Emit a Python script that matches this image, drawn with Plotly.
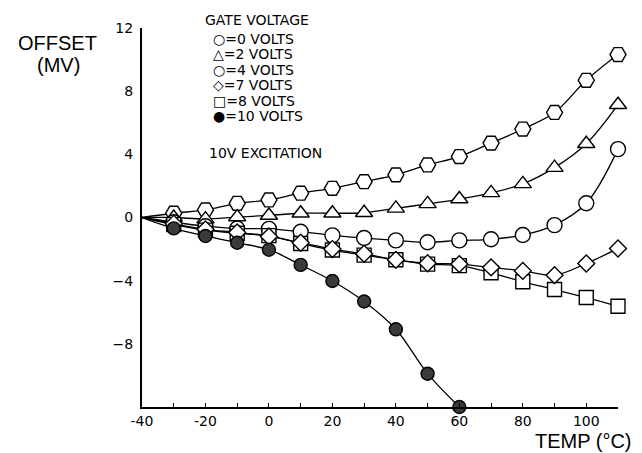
import plotly.graph_objects as go

# ---- data ----
temps = [-30, -20, -10, 0, 10, 20, 30, 40, 50, 60, 70, 80, 90, 100, 110]
gate_0v = [0.27, 0.48, 0.9, 1.11, 1.54, 1.85, 2.27, 2.7, 3.33, 3.86, 4.71, 5.6, 6.65, 8.69, 10.32]
gate_2v = [0.0, -0.1, 0.03, 0.13, 0.27, 0.27, 0.3, 0.58, 0.86, 1.17, 1.56, 2.13, 3.16, 4.67, 7.14]
gate_4v = [-0.3, -0.55, -0.7, -0.72, -0.9, -1.13, -1.3, -1.45, -1.57, -1.45, -1.38, -1.11, -0.48, 0.9, 4.33]
gate_7v = [-0.4, -0.75, -0.95, -1.2, -1.6, -2.0, -2.3, -2.68, -2.9, -2.95, -3.16, -3.38, -3.65, -2.91, -1.96]
gate_8v = [-0.45, -0.8, -1.0, -1.15, -1.65, -2.06, -2.38, -2.68, -2.95, -3.05, -3.5, -4.07, -4.56, -5.07, -5.62]
temps_10v = [-30, -20, -10, 0, 10, 20, 30, 40, 50, 60]
gate_10v = [-0.69, -1.17, -1.6, -2.04, -3.0, -4.02, -5.32, -7.08, -9.89, -12.0]
origin_temp, origin_offset = -40, 0.0

x_tickvals = [-40, -30, -20, -10, 0, 10, 20, 30, 40, 50, 60, 70, 80, 90, 100, 110]
x_ticktext = ["-40", "", "-20", "", "0", "", "20", "", "40", "", "60", "", "80", "", "100", ""]
y_tickvals = [12, 8, 4, 0, -4, -8]

legend_lines = ["○=0 VOLTS", "△=2 VOLTS", "○=4 VOLTS", "◇=7 VOLTS", "□=8 VOLTS", "●=10 VOLTS"]

series = [
    (temps, gate_0v, "hexagon2", "white", 16),
    (temps, gate_2v, "triangle-up", "white", 15),
    (temps, gate_4v, "circle", "white", 15),
    (temps, gate_8v, "square", "white", 14),
    (temps, gate_7v, "diamond", "white", 13),
    (temps_10v, gate_10v, "circle", "#3a3a3a", 13),
]

fig = go.Figure()
# lines first (all start from the common origin)
for xs, ys, sym, fill, size in series:
    fig.add_trace(go.Scatter(
        x=[origin_temp] + xs, y=[origin_offset] + ys, mode="lines",
        line=dict(color="black", width=1.3, shape="spline", smoothing=1.0),
        hoverinfo="skip", showlegend=False, cliponaxis=False))
for xs, ys, sym, fill, size in series:
    fig.add_trace(go.Scatter(
        x=xs, y=ys, mode="markers",
        marker=dict(symbol=sym, size=size, color=fill, line=dict(color="black", width=1.4)),
        showlegend=False, cliponaxis=False))

W, H = 642, 453
L, R, T, B = 142, 24, 28, 46
pw, ph = W - L - R, H - T - B

def px(xp):
    return (xp - L) / pw

def py(yp):
    return (H - B - yp) / ph

font_main = "DejaVu Sans"
ann = []
ann.append(dict(text="GATE VOLTAGE", x=px(257), y=py(20), xanchor="center", yanchor="middle",
                font=dict(family=font_main, size=14, color="black")))
for i, t in enumerate(legend_lines):
    ann.append(dict(text=t, x=px(211), y=py(39 + i * 15.4), xanchor="left", yanchor="middle",
                    font=dict(family=font_main, size=14, color="black")))
ann.append(dict(text="10V EXCITATION", x=px(265), y=py(153), xanchor="center", yanchor="middle",
                font=dict(family=font_main, size=14, color="black")))
ann.append(dict(text="OFFSET", x=px(57), y=py(43), xanchor="center", yanchor="middle",
                font=dict(family="Liberation Sans", size=20, color="black")))
ann.append(dict(text="(MV)", x=px(58), y=py(65), xanchor="center", yanchor="middle",
                font=dict(family="Liberation Sans", size=20, color="black")))
ann.append(dict(text="TEMP (°C)", x=px(634), y=py(441), xanchor="right", yanchor="middle",
                font=dict(family="Liberation Sans", size=20, color="black")))
for a in ann:
    a.update(xref="paper", yref="paper", showarrow=False)

fig.update_layout(
    width=W, height=H, margin=dict(l=L, r=R, t=T, b=B),
    paper_bgcolor="white", plot_bgcolor="white",
    annotations=ann, showlegend=False,
    xaxis=dict(range=[-40, 110], tickvals=x_tickvals, ticktext=x_ticktext,
               showgrid=False, zeroline=False, showline=True, linecolor="black", linewidth=1.5,
               ticks="inside", ticklen=4, tickwidth=1.2, tickcolor="black",
               tickfont=dict(family=font_main, size=14, color="black")),
    yaxis=dict(range=[-12, 12], tickvals=y_tickvals,
               showgrid=False, zeroline=False, showline=True, linecolor="black", linewidth=2.2,
               ticks="", ticklabelstandoff=4,
               tickfont=dict(family=font_main, size=14, color="black")),
)

fig.write_html("out.html")
